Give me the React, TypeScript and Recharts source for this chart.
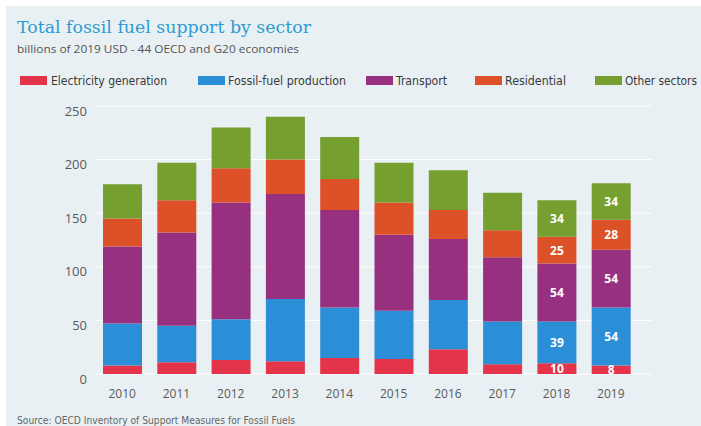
import { BarChart, Bar, XAxis, YAxis, CartesianGrid, LabelList } from "recharts";

const YEARS = ["2010", "2011", "2012", "2013", "2014", "2015", "2016", "2017", "2018", "2019"];
const ELECTRICITY = [8, 11, 13, 12, 15, 14, 23, 9, 10, 8];
const FOSSIL_PRODUCTION = [39, 34, 38, 58, 47, 45, 46, 40, 39, 54];
const TRANSPORT = [72, 87, 109, 98, 91, 71, 57, 60, 54, 54];
const RESIDENTIAL = [26, 30, 32, 32, 29, 30, 27, 25, 25, 28];
const OTHER = [32, 35, 38, 40, 39, 37, 37, 35, 34, 34];
const Y_TICKS = [0, 50, 100, 150, 200, 250];
// only the last two years carry value labels
const LABELED_YEARS = ["2018", "2019"];

const SERIES = [
  { key: "electricity", name: "Electricity generation", color: "#e3344a", values: ELECTRICITY },
  { key: "fossil", name: "Fossil-fuel production", color: "#2b8fd8", values: FOSSIL_PRODUCTION },
  { key: "transport", name: "Transport", color: "#96307f", values: TRANSPORT },
  { key: "residential", name: "Residential", color: "#dc5128", values: RESIDENTIAL },
  { key: "other", name: "Other sectors", color: "#759f2f", values: OTHER },
];

const data = YEARS.map((year, i) => {
  const row: Record<string, string | number> = { year };
  SERIES.forEach((s) => (row[s.key] = s.values[i]));
  return row;
});

// legend layout: [swatch x, text x, text width]
const LEGEND_POS: [number, number, number][] = [
  [20, 51, 116],
  [198, 228, 118],
  [366, 396, 51],
  [475, 505, 61],
  [595, 625, 72],
];

const BG = "#e8f0f4";
const SANS = "'Open Sans', 'Noto Sans', sans-serif";
const NARROW = "'Liberation Sans Narrow', 'DejaVu Sans Condensed', 'Open Sans', sans-serif";

function YTick(props: any) {
  const { x, y, payload } = props;
  return (
    <text x={x} y={y + 5} dy="0.355em" textAnchor="end" fontSize={13} fill="#5a5a5a" fontFamily={SANS}>
      {payload.value}
    </text>
  );
}

function SegmentLabel(props: any) {
  const { x, y, width, height, value, index } = props;
  if (!LABELED_YEARS.includes(YEARS[index])) return null;
  return (
    <text
      x={x + width / 2}
      y={y + height / 2}
      dy="0.36em"
      textAnchor="middle"
      fontSize={12}
      fontWeight="bold"
      fill="#ffffff"
      fontFamily={SANS}
    >
      {value}
    </text>
  );
}

export default function App() {
  return (
    <div style={{ position: "absolute", top: 0, left: 0, width: 701, height: 426, background: "#fff" }}>
      <div style={{ position: "absolute", left: 6, top: 6, width: 695, height: 420, background: BG }} />
      <div style={{ position: "absolute", left: 0, top: 0 }}>
        <BarChart
          width={701}
          height={426}
          data={data}
          margin={{ top: 106, right: 49, left: 55, bottom: 22 }}
        >
          <CartesianGrid vertical={false} stroke="#ffffff" strokeWidth={1} />
          <XAxis
            dataKey="year"
            axisLine={false}
            tickLine={false}
            tickMargin={9}
            height={30}
            padding={{ left: 0, right: 14 }}
            tick={{ fontSize: 12, fill: "#5a5a5a", fontFamily: SANS }}
          />
          <YAxis
            width={40}
            domain={[0, 250]}
            ticks={Y_TICKS}
            axisLine={false}
            tickLine={false}
            tick={<YTick />}
          />
          {SERIES.map((s) => (
            <Bar key={s.key} dataKey={s.key} name={s.name} stackId="a" fill={s.color} barSize={39} isAnimationActive={false}>
              <LabelList dataKey={s.key} content={<SegmentLabel />} />
            </Bar>
          ))}
        </BarChart>
      </div>
      <svg width={701} height={426} style={{ position: "absolute", left: 0, top: 0, pointerEvents: "none" }}>
        <text x={17} y={33} fontSize={16} fill="#2e9bd0" fontFamily="'DejaVu Serif', serif" textLength={294} lengthAdjust="spacingAndGlyphs">
          Total fossil fuel support by sector
        </text>
        <text x={17} y={53} fontSize={11.5} fill="#555" fontFamily={SANS} textLength={282} lengthAdjust="spacingAndGlyphs">
          billions of 2019 USD - 44 OECD and G20 economies
        </text>
        {SERIES.map((s, i) => {
          const [sx, tx, tw] = LEGEND_POS[i];
          return (
            <g key={s.key}>
              <rect x={sx} y={76} width={27} height={9} fill={s.color} />
              <text x={tx} y={85} fontSize={12.5} fill="#3a3a3a" fontFamily={NARROW} textLength={tw} lengthAdjust="spacingAndGlyphs">
                {s.name}
              </text>
            </g>
          );
        })}
        <text x={17} y={423.5} fontSize={11} fill="#666" fontFamily={NARROW} textLength={278} lengthAdjust="spacingAndGlyphs">
          Source: OECD Inventory of Support Measures for Fossil Fuels
        </text>
      </svg>
    </div>
  );
}
